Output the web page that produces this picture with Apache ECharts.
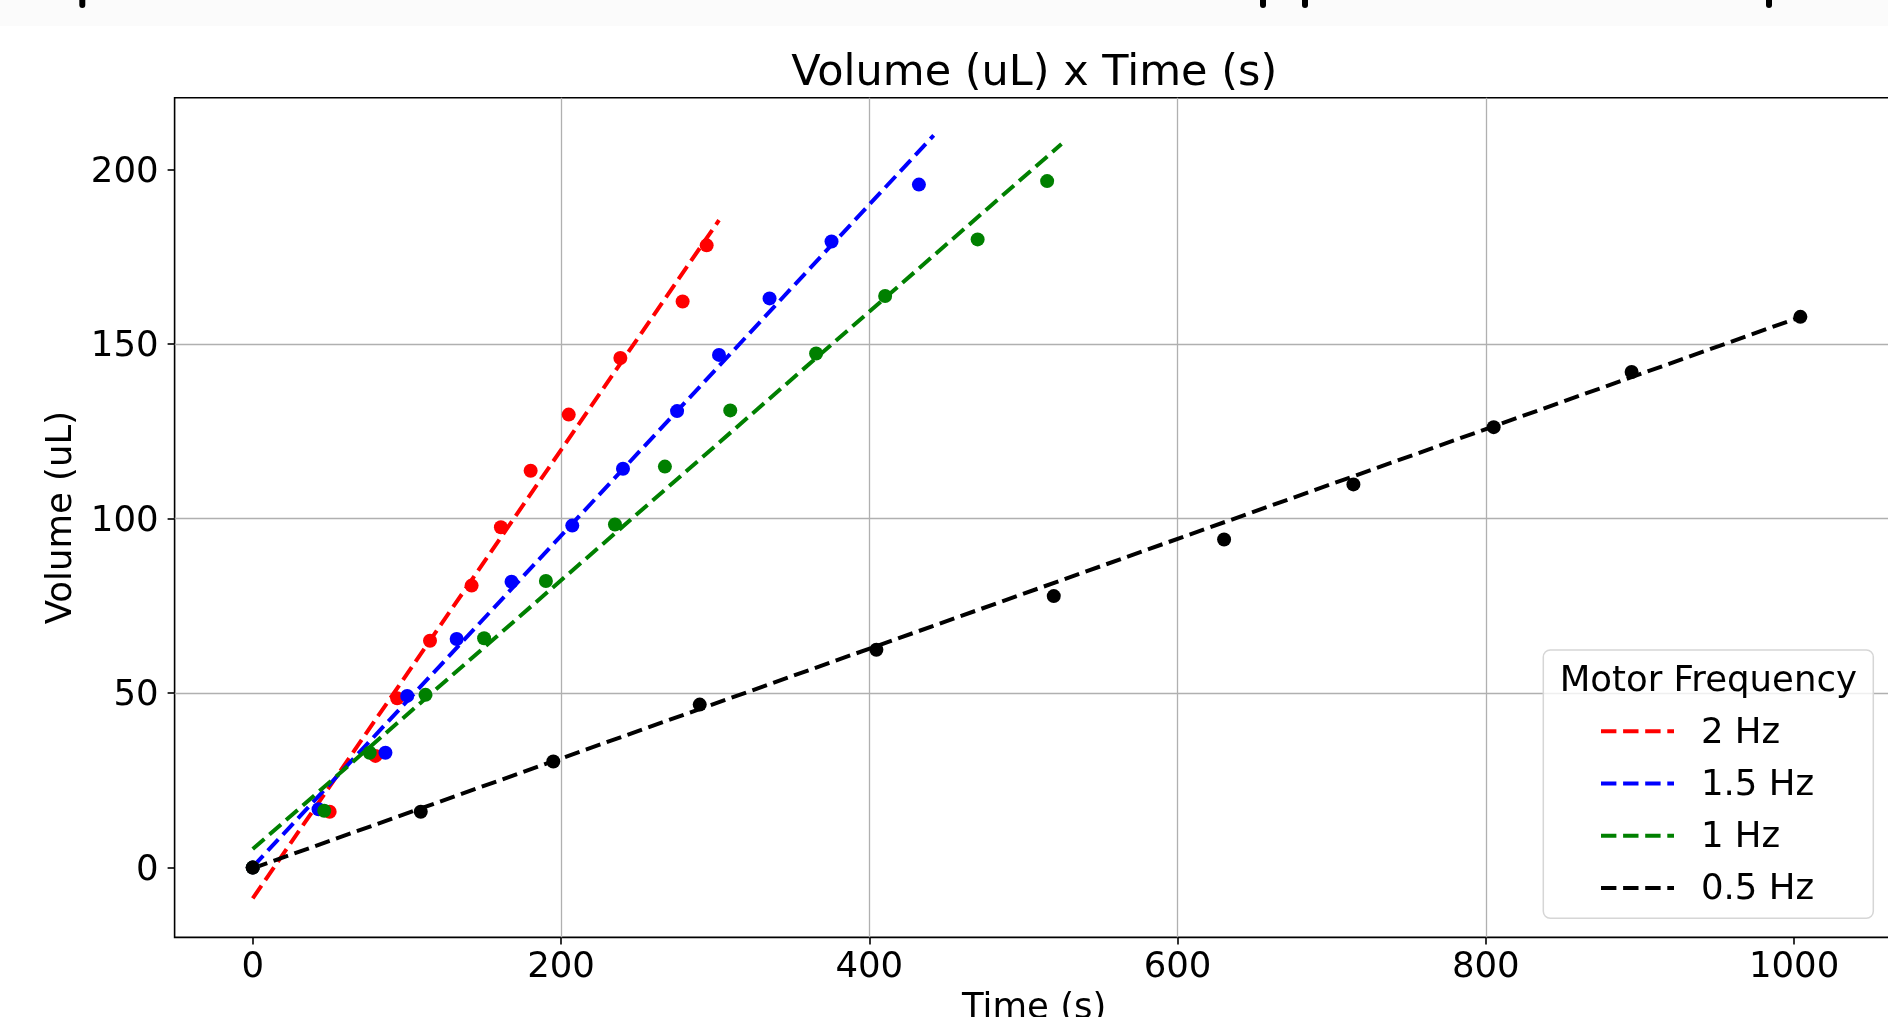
<!DOCTYPE html>
<html>
<head>
<meta charset="utf-8">
<script src="https://cdn.jsdelivr.net/npm/echarts@6/dist/echarts.min.js"></script>
<style>
html, body { margin: 0; padding: 0; background: #ffffff; overflow: hidden; }
#chart { width: 1888px; height: 1017px; }
</style>
</head>
<body>
<div id="chart"></div>
<script>
// ---------------- data ----------------
const frequencies = ['2 Hz', '1.5 Hz', '1 Hz', '0.5 Hz'];

const time2Hz = [0, 49.9, 79.6, 93.7, 115.0, 142.0, 161.0, 180.3, 205.0, 238.5, 278.9, 294.5];
const vol2Hz  = [0, 16.0, 32.0, 48.5, 65.0, 80.8, 97.5, 113.7, 129.8, 146.0, 162.2, 178.3];

const time15Hz = [0, 42.7, 86.1, 100.2, 132.3, 167.9, 207.3, 240.2, 275.3, 302.5, 335.3, 375.5, 432.2];
const vol15Hz  = [0, 16.7, 32.9, 49.2, 65.5, 81.9, 98.0, 114.3, 130.8, 146.9, 163.1, 179.4, 195.7];

const time1Hz = [0, 46.4, 75.9, 112.1, 150.1, 190.2, 235.0, 267.4, 309.8, 365.5, 410.3, 470.3, 515.4];
const vol1Hz  = [0, 16.3, 32.9, 49.5, 65.7, 82.1, 98.3, 114.9, 131.0, 147.3, 163.8, 180.0, 196.7];

const time05Hz = [0, 109.0, 195.0, 290.0, 404.6, 519.7, 630.2, 714.1, 805.1, 894.6, 1004.1];
const vol05Hz  = [0, 16.0, 30.4, 46.7, 62.4, 77.8, 94.0, 109.8, 126.2, 142.0, 157.8];

// fitted trend lines: [start, end] in (time, volume)
const fitTime2Hz  = [0, 302.5];  const fitVol2Hz  = [-8.8, 185.5];
const fitTime15Hz = [0, 441.8];  const fitVol15Hz = [0.2, 209.8];
const fitTime1Hz  = [0, 524.7];  const fitVol1Hz  = [5.3, 207.3];
const fitTime05Hz = [0, 1005.0]; const fitVol05Hz = [-0.2, 157.9];

const timeTicks   = [0, 200, 400, 600, 800, 1000];
const volumeTicks = [0, 50, 100, 150, 200];
const timeRange   = [-50.7, 1064.7];
const volumeRange = [-20, 220.6];

// ---------------- styles ----------------
const colors = ['#ff0000', '#0000ff', '#008000', '#000000'];
const FONT = '"DejaVu Sans", "Liberation Sans", sans-serif';
const dashPattern = [15.4, 6.7];

const groups = [
  { t: time2Hz,  v: vol2Hz,  ft: fitTime2Hz,  fv: fitVol2Hz },
  { t: time15Hz, v: vol15Hz, ft: fitTime15Hz, fv: fitVol15Hz },
  { t: time1Hz,  v: vol1Hz,  ft: fitTime1Hz,  fv: fitVol1Hz },
  { t: time05Hz, v: vol05Hz, ft: fitTime05Hz, fv: fitVol05Hz }
];

const series = [];
groups.forEach((g, i) => {
  series.push({
    type: 'scatter',
    name: frequencies[i] + ' points',
    data: g.t.map((x, j) => [x, g.v[j]]),
    symbol: 'circle',
    symbolSize: 14,
    itemStyle: { color: colors[i], opacity: 1 },
    silent: true,
    animation: false,
    z: 2
  });
  series.push({
    type: 'line',
    name: frequencies[i],
    data: g.ft.map((x, j) => [x, g.fv[j]]),
    symbol: 'none',
    showSymbol: false,
    lineStyle: { color: colors[i], width: 4, type: dashPattern, cap: 'butt' },
    itemStyle: { color: colors[i] },
    silent: true,
    animation: false,
    z: 2
  });
});

// legend handle: four dashes drawn as a path, with transparent padding on the right
const dashIcon = 'path://M0,0M95,30' +
  'M0,11h15.4v4h-15.4z' +
  'M22.1,11h15.4v4h-15.4z' +
  'M44.2,11h15.4v4h-15.4z' +
  'M66.3,11h6.7v4h-6.7z';

const axisTextStyle = { fontFamily: FONT, fontSize: 35.5, color: '#000000' };

const option = {
  backgroundColor: '#ffffff',
  animation: false,
  title: {
    text: 'Volume (uL) x Time (s)',
    left: 1034.2,
    top: 52,
    padding: 0,
    textAlign: 'center',
    textStyle: { fontFamily: FONT, fontSize: 43, fontWeight: 'normal', color: '#000000' }
  },
  grid: {
    left: 174.6,
    right: -5.8,
    top: 97.7,
    bottom: 79.6,
    show: true,
    borderColor: '#000000',
    borderWidth: 1.6,
    backgroundColor: 'rgba(0,0,0,0)',
    containLabel: false,
    outerBoundsMode: 'none'
  },
  xAxis: {
    type: 'value',
    min: timeRange[0],
    max: timeRange[1],
    axisLine: { show: false, onZero: false },
    axisTick: { show: true, customValues: timeTicks, length: 7, lineStyle: { color: '#000000', width: 1.6 } },
    axisLabel: { show: true, customValues: timeTicks, margin: 12, formatter: v => String(v), ...axisTextStyle },
    splitLine: { show: true, showMinLine: false, showMaxLine: false, lineStyle: { color: '#b0b0b0', width: 1.3 } },
    name: 'Time (s)',
    nameLocation: 'middle',
    nameGap: 53,
    nameTextStyle: { ...axisTextStyle }
  },
  yAxis: {
    type: 'value',
    min: volumeRange[0],
    max: volumeRange[1],
    axisLine: { show: false, onZero: false },
    axisTick: { show: true, customValues: volumeTicks, length: 7, lineStyle: { color: '#000000', width: 1.6 } },
    axisLabel: {
      show: true, customValues: volumeTicks, margin: 16,
      verticalAlign: 'top', lineHeight: 6,
      formatter: v => String(v), ...axisTextStyle
    },
    splitLine: { show: true, showMinLine: false, showMaxLine: false, lineStyle: { color: '#b0b0b0', width: 1.3 } },
    name: 'Volume (uL)',
    nameLocation: 'middle',
    nameGap: 90,
    nameRotate: 90,
    nameTextStyle: { ...axisTextStyle }
  },
  legend: {
    show: true,
    orient: 'vertical',
    left: 1601,
    top: 715.3,
    padding: 0,
    itemGap: 16.2,
    itemWidth: 95,
    itemHeight: 30,
    selectedMode: false,
    z: 20,
    itemStyle: { borderWidth: 0 },
    textStyle: { ...axisTextStyle, lineHeight: 30 },
    data: frequencies.map(n => ({ name: n, icon: dashIcon }))
  },
  graphic: [
    { type: 'rect', silent: true, z: 0, shape: { x: 0, y: 0, width: 1888, height: 26 }, style: { fill: '#fbfbfb' } },
    { type: 'rect', silent: true, z: 1, shape: { x: 79.3, y: 0, width: 6, height: 8, r: [0, 0, 3, 3] }, style: { fill: '#000000' } },
    { type: 'rect', silent: true, z: 1, shape: { x: 1260, y: 0, width: 6, height: 8, r: [0, 0, 3, 3] }, style: { fill: '#000000' } },
    { type: 'rect', silent: true, z: 1, shape: { x: 1302, y: 0, width: 6, height: 8, r: [0, 0, 3, 3] }, style: { fill: '#000000' } },
    { type: 'rect', silent: true, z: 1, shape: { x: 1766, y: 0, width: 6, height: 8, r: [0, 0, 3, 3] }, style: { fill: '#000000' } },
    {
      type: 'rect', silent: true, z: 10,
      shape: { x: 1543.3, y: 650, width: 330, height: 268.3, r: 7 },
      style: { fill: 'rgba(255,255,255,0.8)', stroke: '#d6d6d6', lineWidth: 1.5 }
    },
    {
      type: 'text', silent: true, z: 21,
      x: 1708.3, y: 682,
      style: {
        text: 'Motor Frequency',
        fontFamily: FONT, fontSize: 35.5, fill: '#000000',
        align: 'center', verticalAlign: 'middle'
      }
    }
  ],
  series: series
};

const chart = echarts.init(document.getElementById('chart'), null, { renderer: 'canvas', width: 1888, height: 1017 });
chart.setOption(option);
</script>
</body>
</html>
